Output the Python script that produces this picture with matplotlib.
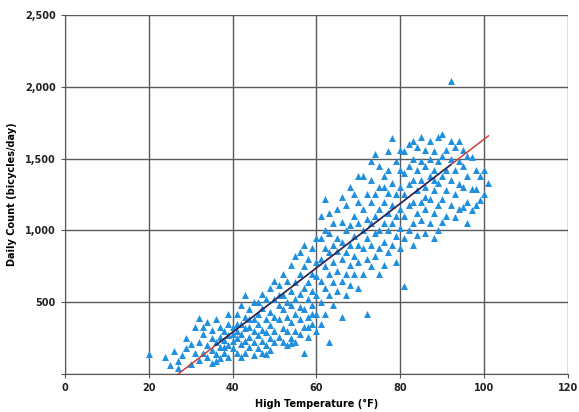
import matplotlib
matplotlib.use("Agg")
import matplotlib.pyplot as plt
from matplotlib.ticker import FuncFormatter

# (high temperature, daily count), grouped by temperature band
band_20s = [(20, 140), (24, 120), (25, 60), (26, 160), (27, 90), (27, 40), (28, 130),
            (29, 250), (29, 180), (30, 70), (30, 210), (31, 150)]
band_30s = [(31, 330), (32, 220), (32, 390), (33, 150), (33, 280), (34, 360), (34, 120),
            (34, 200), (35, 250), (35, 310), (35, 170), (36, 220), (36, 140), (36, 90),
            (37, 260), (37, 330), (37, 190), (38, 300), (38, 150), (38, 240), (39, 350),
            (39, 200), (39, 120), (39, 420), (40, 280), (40, 180), (40, 330), (40, 230),
            (36, 380), (33, 330), (38, 190), (37, 110), (35, 80), (39, 270), (32, 100)]
band_40s = [(41, 150), (41, 300), (41, 420), (41, 250), (42, 210), (42, 350), (42, 480),
            (42, 280), (43, 550), (43, 150), (43, 320), (43, 400), (44, 260), (44, 190),
            (44, 380), (44, 450), (45, 130), (45, 300), (45, 220), (45, 500), (46, 350),
            (46, 270), (46, 180), (46, 420), (47, 310), (47, 230), (47, 150), (47, 460),
            (47, 560), (48, 380), (48, 290), (48, 200), (48, 520), (49, 250), (49, 340),
            (49, 430), (49, 170), (49, 600), (50, 300), (50, 400), (50, 220), (50, 520),
            (50, 650), (46, 500), (44, 330), (42, 120), (48, 140), (45, 380), (43, 230),
            (41, 350)]
band_50s = [(51, 260), (51, 380), (51, 480), (51, 620), (52, 320), (52, 450), (52, 550),
            (52, 700), (52, 220), (53, 300), (53, 400), (53, 500), (53, 650), (54, 250),
            (54, 360), (54, 480), (54, 580), (54, 760), (55, 300), (55, 420), (55, 520),
            (55, 640), (55, 820), (56, 280), (56, 380), (56, 470), (56, 560), (56, 700),
            (57, 330), (57, 450), (57, 600), (57, 750), (57, 900), (58, 260), (58, 400),
            (58, 520), (58, 640), (58, 800), (59, 350), (59, 480), (59, 580), (59, 700),
            (59, 880), (60, 300), (60, 420), (60, 550), (60, 680), (60, 780), (60, 950),
            (53, 200), (55, 220), (58, 330), (56, 850), (59, 420), (51, 550), (57, 150),
            (54, 215), (63, 225)]
band_60s = [(61, 350), (61, 500), (61, 650), (61, 800), (61, 950), (61, 1100), (62, 420),
            (62, 600), (62, 750), (62, 880), (62, 1000), (62, 1220), (63, 550),
            (63, 700), (63, 850), (63, 980), (63, 1120), (64, 480), (64, 640), (64, 780),
            (64, 900), (64, 1050), (65, 580), (65, 720), (65, 860), (65, 950), (65, 1150),
            (66, 400), (66, 650), (66, 800), (66, 920), (66, 1060), (66, 1230), (67, 550),
            (67, 700), (67, 850), (67, 1000), (67, 1180), (68, 620), (68, 760), (68, 900),
            (68, 1040), (68, 1300), (69, 700), (69, 820), (69, 960), (69, 1100), (69, 1250),
            (70, 600), (70, 780), (70, 900), (70, 1050), (70, 1200), (70, 1380)]
band_70s = [(71, 700), (71, 880), (71, 1000), (71, 1150), (71, 1380), (72, 420), (72, 800),
            (72, 950), (72, 1080), (72, 1250), (73, 750), (73, 900), (73, 1050), (73, 1200),
            (73, 1350), (74, 820), (74, 980), (74, 1100), (74, 1250), (74, 1530), (75, 700),
            (75, 880), (75, 1000), (75, 1150), (75, 1300), (75, 1450), (76, 760), (76, 920),
            (76, 1050), (76, 1200), (76, 1380), (77, 850), (77, 1000), (77, 1120),
            (77, 1260), (77, 1420), (78, 900), (78, 1050), (78, 1180), (78, 1330),
            (78, 1640), (79, 780), (79, 960), (79, 1100), (79, 1250), (79, 1480), (80, 880),
            (80, 1020), (80, 1150), (80, 1300), (80, 1420), (80, 1560), (73, 1480),
            (77, 1550), (76, 1300)]
band_80s = [(81, 610), (81, 950), (81, 1100), (81, 1250), (81, 1400), (81, 1550), (82, 1000),
            (82, 1180), (82, 1320), (82, 1450), (82, 1600), (83, 900), (83, 1050),
            (83, 1200), (83, 1350), (83, 1500), (84, 965), (84, 1120), (84, 1280),
            (84, 1420), (84, 1580), (85, 1070), (85, 1200), (85, 1350), (85, 1480),
            (85, 1650), (86, 980), (86, 1150), (86, 1300), (86, 1450), (86, 1560), (87, 1050),
            (87, 1220), (87, 1380), (87, 1500), (87, 1620), (88, 950), (88, 1120),
            (88, 1280), (88, 1420), (88, 1550), (89, 1000), (89, 1180), (89, 1330),
            (89, 1480), (89, 1650), (90, 1060), (90, 1220), (90, 1380), (90, 1520),
            (90, 1670), (92, 2040), (86, 1230), (83, 1620), (88, 1350)]
band_90s = [(91, 1100), (91, 1280), (91, 1420), (91, 1560), (92, 1180), (92, 1350),
            (92, 1500), (92, 1620), (93, 1090), (93, 1250), (93, 1420), (93, 1580),
            (94, 1150), (94, 1320), (94, 1480), (94, 1620), (95, 1160), (95, 1300),
            (95, 1450), (95, 1560), (96, 1200), (96, 1380), (96, 1520), (97, 1140),
            (97, 1290), (97, 1510), (98, 1290), (98, 1420), (99, 1210), (99, 1380),
            (100, 1250), (101, 1330), (100, 1420), (96, 1050), (98, 1180)]

points = band_20s + band_30s + band_40s + band_50s + band_60s + band_70s + band_80s + band_90s
temps = [p[0] for p in points]
counts = [p[1] for p in points]

# fitted trend line: count = slope * temp + intercept
slope = 22.4
intercept = -605
trend_span = [27, 101]
dark_span = [36, 92]

x_ticks = [0, 20, 40, 60, 80, 100, 120]
y_ticks = [0, 500, 1000, 1500, 2000, 2500]

fig = plt.figure(figsize=(5.79, 4.12), dpi=100)
ax = fig.add_axes([0.112, 0.092, 0.869, 0.872])

ax.scatter(temps, counts, marker="^", s=25, color="#1f8fe0", linewidths=0, zorder=3)
ax.plot(trend_span, [slope * t + intercept for t in trend_span], color="#c8413a", lw=1.1, zorder=4)
ax.plot(dark_span, [slope * t + intercept for t in dark_span], color="#1c2a5c", lw=1.1, zorder=5)

ax.set_xlim(0, 120)
ax.set_ylim(0, 2500)
ax.set_xticks(x_ticks)
ax.set_yticks(y_ticks)
ax.yaxis.set_major_formatter(FuncFormatter(lambda v, p: "" if v == 0 else f"{int(v):,}"))
ax.grid(True, color="#5a5a5a", lw=1.0)
ax.set_axisbelow(True)
for side in ["top", "right"]:
    ax.spines[side].set_visible(False)
for side in ["left", "bottom"]:
    ax.spines[side].set_color("#555555")
ax.tick_params(length=3, color="#555555", labelsize=7, labelcolor="#222222")
for lbl in ax.get_xticklabels() + ax.get_yticklabels():
    lbl.set_fontweight("bold")

ax.set_xlabel("High Temperature (\u00b0F)", fontsize=7, fontweight="bold", labelpad=4)
ax.set_ylabel("Daily Count (bicycles/day)", fontsize=7, fontweight="bold", labelpad=6)

fig.savefig("out.png", dpi=100)
